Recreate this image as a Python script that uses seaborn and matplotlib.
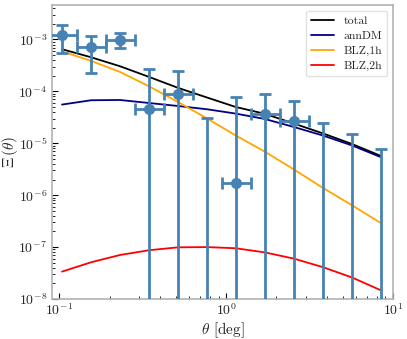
import matplotlib
matplotlib.use("Agg")
import matplotlib.pyplot as plt
import seaborn as sns
import numpy as np

# bin edges and centres [deg]
theta_edges = [0.0850, 0.1268, 0.1893, 0.2826, 0.4218, 0.6295, 0.9397,
               1.403, 2.094, 3.126, 4.666, 6.965, 10.39]
theta = [0.1038, 0.155, 0.231, 0.345, 0.514, 0.769, 1.142,
         1.705, 2.545, 3.80, 5.67, 8.46]

# measured correlation and errors
xi_data = [1.24e-3, 7.08e-4, 9.95e-4, 4.5e-5, 9.1e-5, -1.0e-5, 1.75e-6,
           3.6e-5, 2.65e-5, -5e-6, -5e-6, -3e-6]
xi_err = [7.0e-4, 4.8e-4, 3.1e-4, 2.3e-4, 1.61e-4, 4.07e-5, 7.6e-5,
          5.3e-5, 3.8e-5, 2.93e-5, 1.99e-5, 1.07e-5]

# model components
total = [6.5e-4, 4.54e-4, 3.05e-4, 1.9e-4, 1.17e-4, 7.6e-5, 5.0e-5,
         3.7e-5, 2.4e-5, 1.55e-5, 9.7e-6, 5.7e-6]
ann_dm = [5.57e-5, 6.75e-5, 6.83e-5, 5.97e-5, 5.23e-5, 4.52e-5, 3.73e-5,
          2.94e-5, 2.06e-5, 1.41e-5, 9.1e-6, 5.4e-6]
blz_1h = [5.93e-4, 3.86e-4, 2.37e-4, 1.25e-4, 6.25e-5, 3.0e-5, 1.41e-5,
          6.9e-6, 3.13e-6, 1.38e-6, 6.4e-7, 2.9e-7]
blz_2h = [3.37e-8, 5.1e-8, 7.05e-8, 8.7e-8, 9.9e-8, 1.0e-7, 9.5e-8,
          7.9e-8, 6.0e-8, 4.1e-8, 2.6e-8, 1.47e-8]

sns.set_style("white")
plt.rcParams["font.family"] = ["cmr10"]
plt.rcParams["mathtext.fontset"] = "cm"
plt.rcParams["axes.formatter.use_mathtext"] = True

fig = plt.figure(figsize=(4.07, 3.39), dpi=100)
ax = fig.add_axes([0.1278, 0.118, 0.838, 0.867])

models = [("total", total, "black"),
          ("annDM", ann_dm, "navy"),
          ("BLZ,1h", blz_1h, "orange"),
          ("BLZ,2h", blz_2h, "red")]
for name, vals, col in models:
    sns.lineplot(x=theta, y=vals, color=col, label=name, lw=1.3,
                 sort=False, ax=ax)

th = np.array(theta)
edges = np.array(theta_edges)
xerr = [th - edges[:-1], edges[1:] - th]
ax.errorbar(theta, xi_data, yerr=xi_err, xerr=xerr, fmt="o", ms=7,
            color="steelblue", elinewidth=2, capsize=4, capthick=2, zorder=3)

ax.set_xscale("log")
ax.set_yscale("log")
ax.set_xlim(0.0904, 10)
ax.set_ylim(1e-8, 4.6e-3)

ax.set_xlabel(r"$\theta$ [deg]", fontsize=11)
ax.set_ylabel(r"$\Xi\,(\theta)$", fontsize=11)
ax.xaxis.set_label_coords(0.5, -0.073)
ax.yaxis.set_label_coords(-0.094, 0.5)

ax.tick_params(which="both", direction="in", labelsize=10, color="black")
ax.tick_params(which="major", length=4, width=0.8)
ax.tick_params(which="minor", length=2.5, width=0.6)
ax.tick_params(axis="x", which="both", pad=2.5)
ax.tick_params(axis="both", which="both", bottom=True, left=True)
for sp in ax.spines.values():
    sp.set_color("0.7")
    sp.set_linewidth(1.2)

ax.legend(loc="upper right", fontsize=8.5, labelspacing=0.4, handlelength=2.0,
          fancybox=True, framealpha=0.8, edgecolor="0.85",
          borderaxespad=0.5)

plt.savefig("out.png", dpi=100)
plt.close()
